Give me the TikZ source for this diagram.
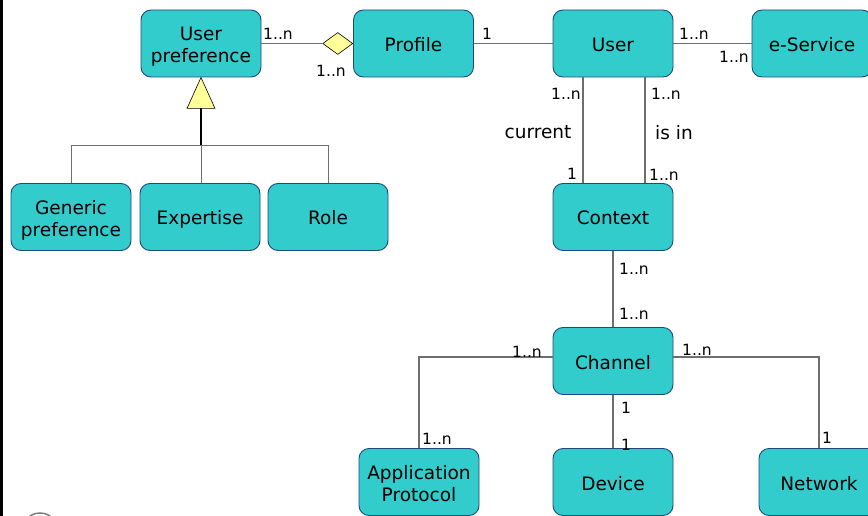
\documentclass[tikz,border=0pt]{standalone}
\usepackage{fontspec}
\setmainfont{DejaVu Sans}
\usetikzlibrary{positioning}
\usetikzlibrary{shapes.geometric}

\definecolor{boxfill}{RGB}{51,204,204}
\definecolor{boxline}{RGB}{31,73,125}
\definecolor{linkgray}{RGB}{110,110,110}
\definecolor{umlyellow}{RGB}{255,255,153}

\tikzset{
  entity/.style={draw=boxline, fill=boxfill, line width=0.9pt, rounded corners=10pt,
    minimum width=120pt, minimum height=67pt, align=center, inner sep=2pt,
    text height=16pt, text depth=0pt,
    font=\fontsize{18.5}{22}\selectfont},
  twoline/.style={text height=41pt, text depth=2pt},
  link/.style={draw=linkgray, line width=1.2pt},
  mult/.style={inner sep=0pt, font=\fontsize{15.5}{18}\selectfont},
  assoc/.style={inner sep=0pt, font=\fontsize{18.5}{22}\selectfont}
}

\begin{document}
\begin{tikzpicture}[x=1pt,y=-1pt]
\useasboundingbox (0,0) rectangle (868,516);
\fill (0,0) rectangle (3,516);
\draw[gray, line width=1.5pt] (40,531) ellipse (18 and 18);

% classes
\node[entity, twoline] (pref) at (201,43.5) {User\\preference};
\node[entity] (profile) at (413.5,43.5) {Profile};
\node[entity] (user) at (613,43.5) {User};
\node[entity] (eserv) at (812,43.5) {e-Service};
\node[entity, twoline] (generic) at (71,217) {Generic\\preference};
\node[entity] (expert) at (200,217) {Expertise};
\node[entity] (roleent) at (328,217) {Role};
\node[entity] (context) at (613,217) {Context};
\node[entity] (channel) at (613,361) {Channel};
\node[entity, twoline] (approt) at (419,482) {Application\\Protocol};
\node[entity] (device) at (613,482) {Device};
\node[entity] (network) at (819,482) {Network};

% aggregation User preference -- Profile
\node[diamond, draw=black, fill=umlyellow, line width=0.6pt, inner sep=0pt,
  minimum width=30pt, minimum height=22pt, anchor=east] (agg) at (profile.west) {};
\draw[link] (pref.east) -- (agg.west);
\node[mult] (m1) at (278,34) {1..n};
\node[mult] (m2) at (331,71) {1..n};

\draw[link] (profile.east) -- (user.west);
\node[mult] (m3) at (487,34) {1};

\draw[link] (user.east) -- (eserv.west);
\node[mult] (m4) at (694,34) {1..n};
\node[mult] (m5) at (734,57) {1..n};

% generalization of User preference
\filldraw[fill=umlyellow, draw=black, line width=0.6pt]
  (pref.south) -- ++(-14,31) -- ++(28,0) -- cycle;
\coordinate (gen) at ([yshift=-31pt]pref.south);
\coordinate (fork) at (201,146);
\draw[line width=2pt] (gen) -- (fork);
\draw[link, line width=1pt] (fork) -| (generic.north);
\draw[link, line width=1pt] (fork) -| (roleent.north);
\draw[link, line width=1pt] (fork) -- (fork |- expert.north);

% User -- Context
\draw[link] ([xshift=-30pt]user.south) -- ([xshift=-30pt]context.north);
\draw[link] ([xshift=32pt]user.south) -- ([xshift=32pt]context.north);
\node[mult] (m6) at (566,94) {1..n};
\node[mult] (m7) at (666,94) {1..n};
\node[assoc] (cur) at (538,132) {current};
\node[assoc] (isin) at (674,133) {is in};
\node[mult] (m8) at (572,174) {1};
\node[mult] (m9) at (664,175) {1..n};

% Context -- Channel
\draw[link] (context.south) -- (channel.north);
\node[mult] (m10) at (634,269) {1..n};
\node[mult] (m11) at (634,314) {1..n};

% Channel -- Application Protocol, Device, Network
\draw[link] ([yshift=4pt]channel.west) -| (approt.north);
\node[mult] (m12) at (527,352) {1..n};
\node[mult] (m13) at (437,439) {1..n};

\draw[link] (channel.south) -- (device.north);
\node[mult] (m14) at (626,408) {1};
\node[mult] (m15) at (626,445) {1};

\draw[link] ([yshift=4pt]channel.east) -| (network.north);
\node[mult] (m16) at (697,350) {1..n};
\node[mult] (m17) at (827,438) {1};

\end{tikzpicture}
\end{document}
